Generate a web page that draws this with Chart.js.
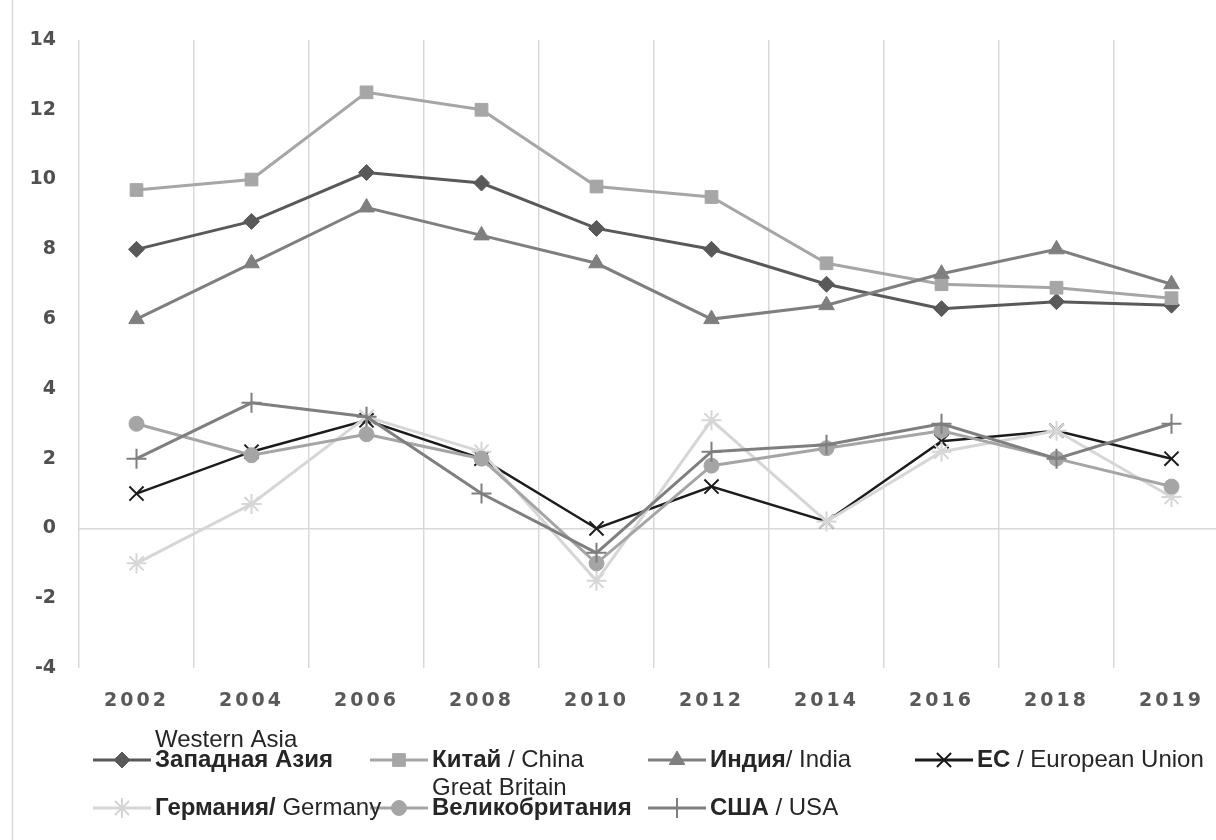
<!DOCTYPE html>
<html>
<head>
<meta charset="utf-8">
<script src="https://cdn.jsdelivr.net/npm/chart.js@4.4.1/dist/chart.umd.min.js"></script>
<style>
  html, body { margin: 0; padding: 0; background: #fff; overflow: hidden; }
  #wrap { position: relative; width: 1245px; height: 840px; }
</style>
</head>
<body>
<div id="wrap"><canvas id="c"></canvas></div>
<script>
// Years on the category axis
const years = ['2002', '2004', '2006', '2008', '2010', '2012', '2014', '2016', '2018', '2019'];

// Growth rates, %
const westernAsia  = [8.0, 8.8, 10.2, 9.9, 8.6, 8.0, 7.0, 6.3, 6.5, 6.4];
const china        = [9.7, 10.0, 12.5, 12.0, 9.8, 9.5, 7.6, 7.0, 6.9, 6.6];
const india        = [6.0, 7.6, 9.2, 8.4, 7.6, 6.0, 6.4, 7.3, 8.0, 7.0];
const europeanUnion = [1.0, 2.2, 3.1, 2.0, 0.0, 1.2, 0.2, 2.5, 2.8, 2.0];
const germany      = [-1.0, 0.7, 3.2, 2.2, -1.5, 3.1, 0.2, 2.2, 2.8, 0.9];
const greatBritain = [3.0, 2.1, 2.7, 2.0, -1.0, 1.8, 2.3, 2.8, 2.0, 1.2];
const usa          = [2.0, 3.6, 3.2, 1.0, -0.7, 2.2, 2.4, 3.0, 2.0, 3.0];

// Value axis ticks
const yTicks = [-4, -2, 0, 2, 4, 6, 8, 10, 12, 14];

// Legend captions: optional English line above, then bold / regular parts
const captionTop  = ['Western Asia', '', '', '', '', 'Great Britain', ''];
const captionBold = ['Западная Азия', 'Китай', 'Индия', 'ЕС', 'Германия/', 'Великобритания', 'США'];
const captionRest = ['', ' / China', '/ India', ' / European Union', ' Germany', '', ' / USA'];

const series = [
  { data: westernAsia,   color: '#595959', style: 'rectRot',  radius: 8,  bw: 1 },
  { data: china,         color: '#a6a6a6', style: 'rect',     radius: 9,  bw: 1 },
  { data: india,         color: '#7f7f7f', style: 'triangle', radius: 9,  bw: 1 },
  { data: europeanUnion, color: '#1c1c1c', style: 'crossRot', radius: 10, bw: 2 },
  { data: germany,       color: '#d6d6d6', style: 'star',     radius: 10, bw: 2 },
  { data: greatBritain,  color: '#a5a5a5', style: 'circle',   radius: 7.5, bw: 1 },
  { data: usa,           color: '#7f7f7f', style: 'cross',    radius: 10, bw: 2 }
];

const datasets = series.map((s, i) => ({
  label: captionBold[i] + captionRest[i],
  data: s.data,
  borderColor: s.color,
  backgroundColor: s.color,
  borderWidth: i === 3 ? 2.5 : 3,
  pointStyle: s.style,
  pointRadius: s.radius,
  pointBorderWidth: s.bw,
  pointBackgroundColor: s.color,
  pointBorderColor: s.color,
  tension: 0,
  order: -i
}));

// Light frame line on the left edge of the chart
const framePlugin = {
  id: 'frame',
  beforeDraw(chart) {
    const ctx = chart.ctx;
    ctx.save();
    ctx.strokeStyle = '#d9d9d9';
    ctx.lineWidth = 1.5;
    ctx.beginPath();
    ctx.moveTo(12.5, 0);
    ctx.lineTo(12.5, chart.height);
    ctx.stroke();
    ctx.restore();
  }
};

// Spaced-out year labels on the x axis
const spacedLabels = {
  id: 'spacedLabels',
  afterLayout(chart) {
    const sc = chart.scales.x;
    if (sc && !sc._spaced) {
      const orig = sc.drawLabels;
      sc.drawLabels = function (area) {
        const ctx = this.ctx;
        ctx.save();
        ctx.letterSpacing = '3px';
        orig.call(this, area);
        ctx.restore();
      };
      sc._spaced = true;
    }
  }
};

// Legend under the plot: sample line with marker, then caption
const legendPlugin = {
  id: 'bottomLegend',
  afterDraw(chart) {
    const ctx = chart.ctx;
    const slots = [
      { x: 93,  y: 760 }, { x: 370, y: 760 }, { x: 648, y: 760 }, { x: 915, y: 760 },
      { x: 93,  y: 808 }, { x: 370, y: 808 }, { x: 648, y: 808 }
    ];
    const fam = '"Liberation Sans", Arial, sans-serif';
    ctx.save();
    series.forEach((s, i) => {
      const { x, y } = slots[i];
      const len = 58;
      ctx.strokeStyle = s.color;
      ctx.lineWidth = 3;
      ctx.beginPath();
      ctx.moveTo(x, y);
      ctx.lineTo(x + len, y);
      ctx.stroke();
      ctx.fillStyle = s.color;
      ctx.strokeStyle = s.color;
      ctx.lineWidth = s.bw;
      Chart.helpers.drawPoint(ctx, { pointStyle: s.style, radius: s.radius, rotation: 0, borderWidth: s.bw }, x + len / 2, y);
    });
    series.forEach((s, i) => {
      const { x, y } = slots[i];
      let tx = x + 62;
      ctx.fillStyle = '#262626';
      ctx.textBaseline = 'middle';
      ctx.textAlign = 'left';
      ctx.font = 'bold 24px ' + fam;
      ctx.fillText(captionBold[i], tx, y);
      tx += ctx.measureText(captionBold[i]).width;
      ctx.font = '24px ' + fam;
      ctx.fillText(captionRest[i], tx, y);
      if (captionTop[i]) {
        ctx.font = '24px ' + fam;
        ctx.fillText(captionTop[i], x + 62, y - 20);
      }
    });
    ctx.restore();
  }
};

new Chart(document.getElementById('c'), {
  type: 'line',
  data: { labels: years, datasets },
  options: {
    responsive: true,
    maintainAspectRatio: false,
    animation: false,
    events: [],
    layout: { autoPadding: false, padding: { left: 0, right: 16, top: 40, bottom: 0 } },
    plugins: { legend: { display: false }, tooltip: { enabled: false } },
    scales: {
      x: {
        type: 'category',
        offset: true,
        grid: { offset: true, color: '#d9d9d9', lineWidth: 1.5, drawTicks: false },
        border: { display: false },
        ticks: {
          padding: 22,
          color: '#595959',
          font: { family: '"DejaVu Sans", Verdana, sans-serif', size: 19, weight: 'bold' },
          maxRotation: 0,
          autoSkip: false
        },
        afterFit(s) { s.height = 172; }
      },
      y: {
        min: -4,
        max: 14,
        afterBuildTicks(s) { s.ticks = yTicks.map(v => ({ value: v })); },
        grid: {
          drawTicks: false,
          color: c => (c.tick && c.tick.value === 0 ? '#d9d9d9' : 'rgba(0,0,0,0)'),
          lineWidth: 1.5
        },
        border: { display: false },
        ticks: {
          padding: 23,
          color: '#505050',
          font: { family: '"DejaVu Sans", Verdana, sans-serif', size: 19, weight: 'bold' }
        },
        afterFit(s) { s.width = 79; }
      }
    }
  },
  plugins: [framePlugin, spacedLabels, legendPlugin]
});
</script>
</body>
</html>
